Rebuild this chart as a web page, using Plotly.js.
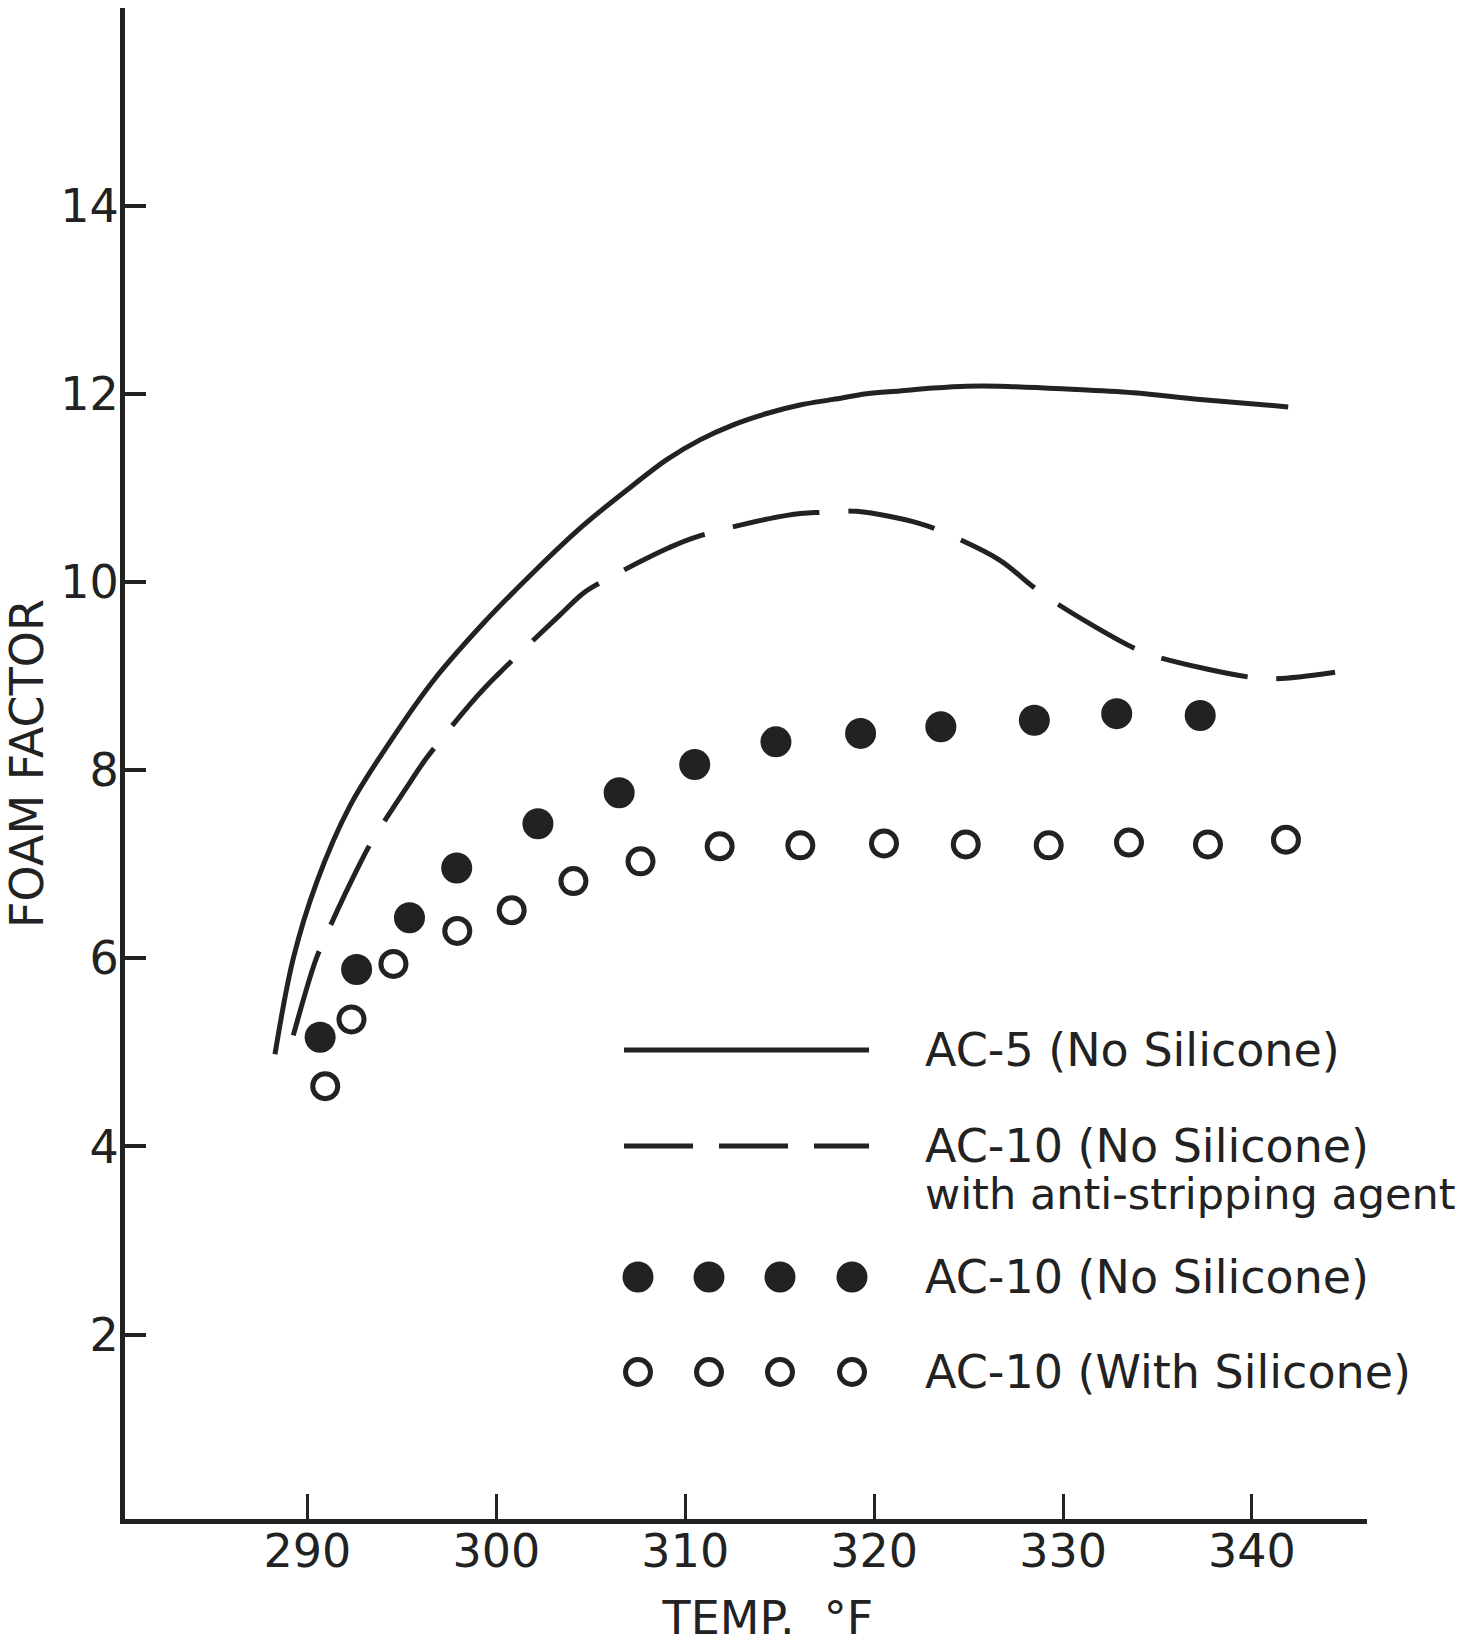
<!DOCTYPE html>
<html><head><meta charset="utf-8">
<script src="https://cdn.plot.ly/plotly-3.0.1.min.js"></script>
<style>html,body{margin:0;padding:0;background:#fff}</style>
</head><body><div id="chart" style="width:1473px;height:1645px"></div>
<script>
// ---- data ----
const ac5X = [288.28, 289.25, 290.49, 292.25, 294.37, 296.66, 299.31, 301.95, 304.6, 307.25, 309.02, 310.78, 312.54, 314.31, 316.07, 317.83, 319.6, 321.36, 323.12, 324.89, 326.65, 330.19, 333.72, 337.25, 341.92];
const ac5Y = [4.98, 6.0, 6.81, 7.62, 8.3, 8.95, 9.56, 10.1, 10.6, 11.03, 11.3, 11.51, 11.67, 11.79, 11.88, 11.94, 12.0, 12.03, 12.06, 12.08, 12.08, 12.05, 12.01, 11.94, 11.86];

const ac10AgentX = [289.25, 290.4, 291.02, 292.69, 293.4, 295.43, 296.31, 298.96, 300.1, 303.37, 304.6, 305.48, 309.1, 310.6, 315.45, 317.22, 319.07, 322.42, 323.75, 326.66, 328.34, 329.75, 333.72, 334.87, 339.8, 341.22, 344.4];
const ac10AgentY = [5.18, 5.96, 6.26, 6.97, 7.24, 7.87, 8.13, 8.78, 9.02, 9.65, 9.88, 9.99, 10.36, 10.48, 10.71, 10.74, 10.75, 10.62, 10.52, 10.23, 9.96, 9.76, 9.30, 9.21, 8.99, 8.97, 9.04];

const ac10NoSilX = [290.67, 292.6, 295.4, 297.9, 302.2, 306.5, 310.5, 314.8, 319.28, 323.53, 328.48, 332.84, 337.26];
const ac10NoSilY = [5.16, 5.88, 6.43, 6.96, 7.43, 7.76, 8.06, 8.30, 8.39, 8.46, 8.53, 8.60, 8.58];

const ac10SilX = [290.94, 292.33, 294.55, 297.93, 300.81, 304.08, 307.63, 311.82, 316.09, 320.52, 324.85, 329.24, 333.49, 337.67, 341.8];
const ac10SilY = [4.64, 5.35, 5.94, 6.29, 6.51, 6.82, 7.03, 7.19, 7.20, 7.22, 7.21, 7.20, 7.23, 7.21, 7.26];

const xTickVals = [290, 300, 310, 320, 330, 340];
const yTickVals = [2, 4, 6, 8, 10, 12, 14];

const seriesNames = ["AC-5 (No Silicone)", "AC-10 (No Silicone)", "AC-10 (No Silicone)", "AC-10 (With Silicone)"];
const agentNote = "with anti-stripping agent";
const xTitle = "&nbsp;&nbsp;&nbsp;TEMP.&nbsp; °F";
const yTitle = "FOAM FACTOR";

// ---- styling ----
const INK = '#222';
const FONT = 'DejaVu Sans, Arial, sans-serif';

const traces = [
  {x: ac5X, y: ac5Y, mode: 'lines', line: {color: INK, width: 5, shape: 'spline', smoothing: 1}, name: seriesNames[0], hoverinfo: 'skip'},
  {x: ac10AgentX, y: ac10AgentY, mode: 'lines', line: {color: INK, width: 5, shape: 'spline', smoothing: 1, dash: '88px,29px'}, name: seriesNames[1], hoverinfo: 'skip'},
  {x: ac10NoSilX, y: ac10NoSilY, mode: 'markers', marker: {symbol: 'circle', size: 31, color: INK, line: {width: 0}}, name: seriesNames[2], cliponaxis: false, hoverinfo: 'skip'},
  {x: ac10SilX, y: ac10SilY, mode: 'markers', marker: {symbol: 'circle-open', size: 25, color: INK, line: {width: 5, color: INK}}, name: seriesNames[3], cliponaxis: false, hoverinfo: 'skip'}
];

// ---- key (drawn on an overlay axis measured in page pixels) ----
const keyLineX = [624, 869];
const keyDotX = [638, 709, 780, 852];
const keyRowY = [1050, 1146, 1277, 1372];
const keyTextX = 923;
const keyNoteY = 1194;

traces.push(
  {x: keyLineX, y: [keyRowY[0], keyRowY[0]], xaxis: 'x2', yaxis: 'y2', mode: 'lines', line: {color: INK, width: 5}, hoverinfo: 'skip'},
  {x: keyLineX, y: [keyRowY[1], keyRowY[1]], xaxis: 'x2', yaxis: 'y2', mode: 'lines', line: {color: INK, width: 5, dash: '69px,26px'}, hoverinfo: 'skip'},
  {x: keyDotX, y: keyDotX.map(() => keyRowY[2]), xaxis: 'x2', yaxis: 'y2', mode: 'markers', marker: {symbol: 'circle', size: 31, color: INK}, cliponaxis: false, hoverinfo: 'skip'},
  {x: keyDotX, y: keyDotX.map(() => keyRowY[3]), xaxis: 'x2', yaxis: 'y2', mode: 'markers', marker: {symbol: 'circle-open', size: 25, color: INK, line: {width: 5, color: INK}}, cliponaxis: false, hoverinfo: 'skip'}
);

const keyFont = {family: FONT, size: 46, color: INK};
const annotations = seriesNames.map((t, i) => ({
  x: keyTextX, y: keyRowY[i], xref: 'x2', yref: 'y2', text: t, showarrow: false,
  xanchor: 'left', yanchor: 'middle', font: keyFont
}));
annotations.push({x: keyTextX, y: keyNoteY, xref: 'x2', yref: 'y2', text: agentNote, showarrow: false, xanchor: 'left', yanchor: 'middle', font: {family: FONT, size: 43, color: INK}});

const layout = {
  width: 1473, height: 1645,
  margin: {l: 125, r: 106, t: 8, b: 126},
  paper_bgcolor: '#fff', plot_bgcolor: '#fff',
  showlegend: false,
  font: {family: FONT, color: INK},
  xaxis: {
    range: [280.34, 346.09], tickvals: xTickVals, ticktext: xTickVals.map(String),
    ticks: 'inside', ticklen: 25, tickwidth: 3, tickcolor: INK,
    showline: true, linewidth: 5, linecolor: INK, showgrid: false, zeroline: false,
    tickfont: {family: FONT, size: 46, color: INK}, ticklabelstandoff: -12,
    title: {text: xTitle, font: {family: FONT, size: 46, color: INK}, standoff: 36}
  },
  yaxis: {
    range: [0.04, 16.1], tickvals: yTickVals, ticktext: yTickVals.map(String),
    ticks: 'inside', ticklen: 21, tickwidth: 4, tickcolor: INK,
    showline: true, linewidth: 5, linecolor: INK, showgrid: false, zeroline: false,
    tickfont: {family: FONT, size: 46, color: INK}, ticklabelstandoff: -8,
    title: {text: yTitle, font: {family: FONT, size: 46, color: INK}, standoff: 16}
  },
  xaxis2: {overlaying: 'x', range: [125, 1367], visible: false, fixedrange: true},
  yaxis2: {overlaying: 'y', range: [1519, 8], visible: false, fixedrange: true},
  annotations: annotations
};

Plotly.newPlot('chart', traces, layout, {staticPlot: true, displayModeBar: false});
</script>
</body></html>
